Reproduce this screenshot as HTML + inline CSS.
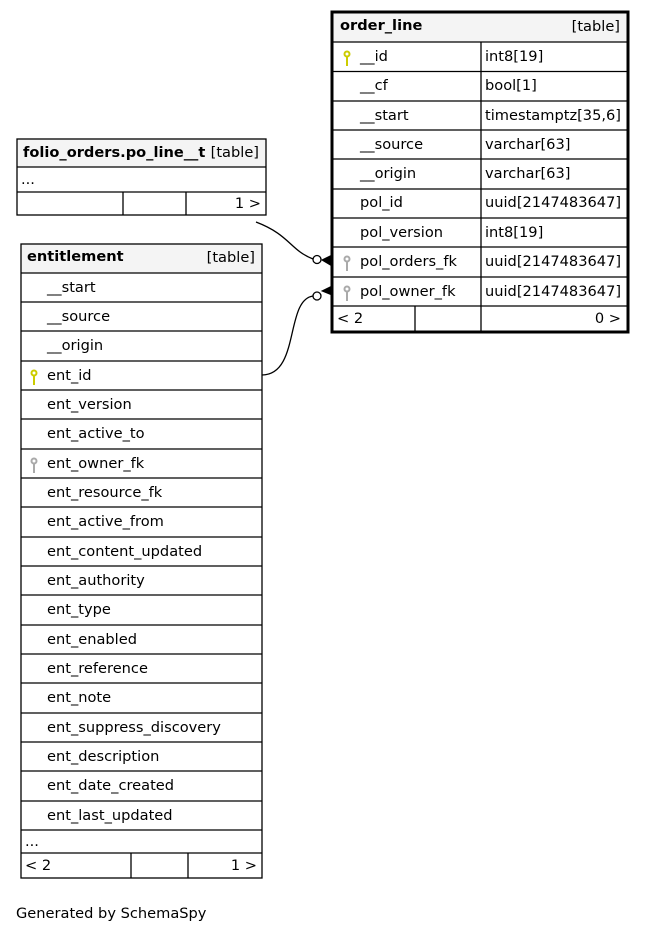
<!DOCTYPE html>
<html><head><style>
body{margin:0;background:#fff;width:645px;height:933px;overflow:hidden}
svg text{font-family:"DejaVu Sans","Liberation Sans",sans-serif;font-size:14.6px;fill:#000}
</style></head><body>
<svg width="645" height="933" xmlns="http://www.w3.org/2000/svg">
<g id="ol">
<rect x="332" y="12" width="296" height="30" fill="#f4f4f4"/>
<rect x="332" y="12" width="296" height="320" fill="none" stroke="#000" stroke-width="3"/>
<text x="340" y="30" font-weight="bold">order_line</text>
<text x="620" y="31" text-anchor="end">[table]</text>
<g stroke="#000" stroke-width="1.3">
<line x1="332" y1="42" x2="628" y2="42"/>
<line x1="332" y1="71.5" x2="628" y2="71.5"/>
<line x1="332" y1="101" x2="628" y2="101"/>
<line x1="332" y1="130" x2="628" y2="130"/>
<line x1="332" y1="159" x2="628" y2="159"/>
<line x1="332" y1="189" x2="628" y2="189"/>
<line x1="332" y1="218" x2="628" y2="218"/>
<line x1="332" y1="247" x2="628" y2="247"/>
<line x1="332" y1="277" x2="628" y2="277"/>
<line x1="332" y1="306" x2="628" y2="306"/>
<line x1="481" y1="42" x2="481" y2="332"/>
<line x1="415" y1="306" x2="415" y2="332"/>
</g>
<text x="360" y="61">__id</text><text x="485" y="61">int8[19]</text>
<text x="360" y="90">__cf</text><text x="485" y="90">bool[1]</text>
<text x="360" y="120">__start</text><text x="485" y="120">timestamptz[35,6]</text>
<text x="360" y="149">__source</text><text x="485" y="149">varchar[63]</text>
<text x="360" y="178">__origin</text><text x="485" y="178">varchar[63]</text>
<text x="360" y="207">pol_id</text><text x="485" y="207">uuid[2147483647]</text>
<text x="360" y="237">pol_version</text><text x="485" y="237">int8[19]</text>
<text x="360" y="266">pol_orders_fk</text><text x="485" y="266">uuid[2147483647]</text>
<text x="360" y="296">pol_owner_fk</text><text x="485" y="296">uuid[2147483647]</text>
<text x="337" y="323">&lt; 2</text><text x="621" y="323" text-anchor="end">0 &gt;</text>
<g stroke-width="2" fill="none">
<circle cx="347" cy="54" r="2.5" stroke="#cc0"/><line x1="347" y1="56" x2="347" y2="66" stroke="#cc0"/>
<circle cx="347" cy="259" r="2.5" stroke="#aaa"/><line x1="347" y1="261" x2="347" y2="271" stroke="#aaa"/>
<circle cx="347" cy="289" r="2.5" stroke="#aaa"/><line x1="347" y1="291" x2="347" y2="301" stroke="#aaa"/>
</g>
</g>
<g id="fo">
<rect x="17" y="139" width="249" height="28" fill="#f4f4f4"/>
<rect x="17" y="139" width="249" height="76" fill="none" stroke="#000" stroke-width="1.3"/>
<g stroke="#000" stroke-width="1.3">
<line x1="17" y1="167" x2="266" y2="167"/><line x1="17" y1="192" x2="266" y2="192"/>
<line x1="123" y1="192" x2="123" y2="215"/><line x1="186" y1="192" x2="186" y2="215"/>
</g>
<text x="23" y="157" font-weight="bold">folio_orders.po_line__t</text>
<text x="259" y="157" text-anchor="end">[table]</text>
<text x="21" y="184">...</text>
<text x="261" y="208" text-anchor="end">1 &gt;</text>
</g>
<g id="en">
<rect x="21" y="244" width="241" height="29" fill="#f4f4f4"/>
<rect x="21" y="244" width="241" height="634" fill="none" stroke="#000" stroke-width="1.3"/>
<text x="27" y="261" font-weight="bold">entitlement</text>
<text x="255" y="262" text-anchor="end">[table]</text>
<g stroke="#000" stroke-width="1.3">
<line x1="21" y1="273" x2="262" y2="273"/><line x1="21" y1="302" x2="262" y2="302"/>
<line x1="21" y1="331" x2="262" y2="331"/><line x1="21" y1="361" x2="262" y2="361"/>
<line x1="21" y1="390" x2="262" y2="390"/><line x1="21" y1="419" x2="262" y2="419"/>
<line x1="21" y1="449" x2="262" y2="449"/><line x1="21" y1="478" x2="262" y2="478"/>
<line x1="21" y1="507" x2="262" y2="507"/><line x1="21" y1="537" x2="262" y2="537"/>
<line x1="21" y1="566" x2="262" y2="566"/><line x1="21" y1="595" x2="262" y2="595"/>
<line x1="21" y1="625" x2="262" y2="625"/><line x1="21" y1="654" x2="262" y2="654"/>
<line x1="21" y1="683" x2="262" y2="683"/><line x1="21" y1="713" x2="262" y2="713"/>
<line x1="21" y1="742" x2="262" y2="742"/><line x1="21" y1="771" x2="262" y2="771"/>
<line x1="21" y1="801" x2="262" y2="801"/><line x1="21" y1="830" x2="262" y2="830"/>
<line x1="21" y1="853" x2="262" y2="853"/>
<line x1="131" y1="853" x2="131" y2="878"/><line x1="188" y1="853" x2="188" y2="878"/>
</g>
<text x="47" y="292">__start</text>
<text x="47" y="321">__source</text>
<text x="47" y="350">__origin</text>
<text x="47" y="380">ent_id</text>
<text x="47" y="409">ent_version</text>
<text x="47" y="438">ent_active_to</text>
<text x="47" y="468">ent_owner_fk</text>
<text x="47" y="497">ent_resource_fk</text>
<text x="47" y="526">ent_active_from</text>
<text x="47" y="556">ent_content_updated</text>
<text x="47" y="585">ent_authority</text>
<text x="47" y="614">ent_type</text>
<text x="47" y="644">ent_enabled</text>
<text x="47" y="673">ent_reference</text>
<text x="47" y="702">ent_note</text>
<text x="47" y="732">ent_suppress_discovery</text>
<text x="47" y="761">ent_description</text>
<text x="47" y="790">ent_date_created</text>
<text x="47" y="820">ent_last_updated</text>
<text x="25" y="846">...</text>
<text x="25" y="870">&lt; 2</text>
<text x="257" y="870" text-anchor="end">1 &gt;</text>
<g stroke-width="2" fill="none">
<circle cx="34" cy="373" r="2.5" stroke="#cc0"/><line x1="34" y1="375" x2="34" y2="385" stroke="#cc0"/>
<circle cx="34" cy="461" r="2.5" stroke="#aaa"/><line x1="34" y1="463" x2="34" y2="473" stroke="#aaa"/>
</g>
</g>
<g stroke="#000" stroke-width="1.3" fill="none">
<path d="M256,222 C290,235 290,250 313,259"/>
<circle cx="317" cy="259.5" r="4" fill="#fff"/>
<path d="M262,375 C300,375 285,300 313,296"/>
<circle cx="317" cy="296" r="4" fill="#fff"/>
</g>
<g fill="#000" stroke="#000" stroke-width="1">
<path d="M322,260 L332,255 L332,266 Z"/>
<path d="M322,291 L332,286 L332,295 Z"/>
</g>
<text x="16" y="918">Generated by SchemaSpy</text>
</svg>
</body></html>
